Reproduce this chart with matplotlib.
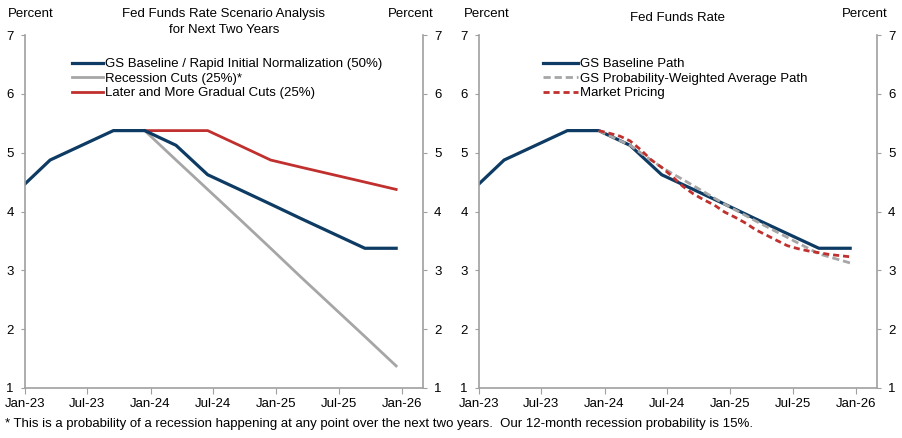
import matplotlib
matplotlib.use("Agg")
import matplotlib.pyplot as plt
import matplotlib.dates as mdates
import pandas as pd

plt.rcParams['font.family'] = ['Liberation Sans', 'DejaVu Sans']
plt.rcParams['font.size'] = 9.5

# quarterly path dates (FOMC months)
quarters = pd.to_datetime(['2022-12-15', '2023-03-15', '2023-06-15', '2023-09-15', '2023-12-15',
                           '2024-03-15', '2024-06-15', '2024-09-15', '2024-12-15',
                           '2025-03-15', '2025-06-15', '2025-09-15', '2025-12-15'])
baseline = [4.375, 4.875, 5.125, 5.375, 5.375, 5.125, 4.625, 4.375, 4.125, 3.875, 3.625, 3.375, 3.375]

scen_dates = quarters[4:]
recession = [5.375, 4.875, 4.375, 3.875, 3.375, 2.875, 2.375, 1.875, 1.375]
gradual = [5.375, 5.375, 5.375, 5.125, 4.875, 4.75, 4.625, 4.5, 4.375]
weighted = [5.375, 5.125, 4.75, 4.44, 4.125, 3.84, 3.56, 3.28, 3.125]

# monthly market pricing, Dec-23 to Dec-25
market_dates = pd.date_range('2023-12-01', '2025-12-01', freq='MS') + pd.Timedelta(days=14)
market = [5.375, 5.33, 5.28, 5.20, 5.05, 4.88, 4.75, 4.60, 4.43, 4.30, 4.20, 4.11, 3.99,
          3.90, 3.80, 3.69, 3.60, 3.51, 3.42, 3.37, 3.33, 3.30, 3.27, 3.25, 3.23]

navy = '#0d3b63'
grey = '#a6a6a6'
red = '#c0302e'
spine_col = '#a0a0a0'

fig = plt.figure(figsize=(9.02, 4.38), dpi=100)
ax1 = fig.add_axes([25/902, 50/438, 398/902, 353/438])
ax2 = fig.add_axes([479/902, 50/438, 398/902, 353/438])


def style(ax):
    ax.set_xlim(pd.Timestamp('2023-01-01'), pd.Timestamp('2026-03-03'))
    ax.set_ylim(1, 7)
    ax.set_yticks(range(1, 8))
    ax.xaxis.set_major_locator(mdates.MonthLocator(bymonth=[1, 7]))
    ax.xaxis.set_major_formatter(mdates.DateFormatter('%b-%y'))
    ax.spines['top'].set_visible(False)
    for s in ['left', 'right', 'bottom']:
        ax.spines[s].set_color(spine_col)
        ax.spines[s].set_linewidth(1.2)
    ax.tick_params(axis='y', left=True, right=True, labelleft=True, labelright=True,
                   length=3, color=spine_col, pad=5)
    ax.tick_params(axis='x', length=4, color=spine_col, pad=3)


style(ax1)
ax1.plot(quarters, baseline, color=navy, lw=2.3, label='GS Baseline / Rapid Initial Normalization (50%)')
ax1.plot(scen_dates, recession, color=grey, lw=2.0, label='Recession Cuts (25%)*', zorder=1)
ax1.plot(scen_dates, gradual, color=red, lw=2.0, label='Later and More Gradual Cuts (25%)', zorder=1)
ax1.legend(loc='upper left', bbox_to_anchor=(0.118, 0.935), frameon=False, borderpad=0,
           borderaxespad=0, handlelength=2.35, handletextpad=0.15, labelspacing=0.18)

style(ax2)
ax2.plot(quarters, baseline, color=navy, lw=2.3, label='GS Baseline Path')
ax2.plot(scen_dates, weighted, color=grey, lw=2.0, dashes=(2.6, 1.4),
         label='GS Probability-Weighted Average Path')
ax2.plot(market_dates, market, color=red, lw=2.0, dashes=(2.2, 1.4), label='Market Pricing')
ax2.legend(loc='upper left', bbox_to_anchor=(0.161, 0.935), frameon=False, borderpad=0,
           borderaxespad=0, handlelength=2.65, handletextpad=0.15, labelspacing=0.18)

# titles and unit labels
fig.text(224/902, 1 - 22/438, 'Fed Funds Rate Scenario Analysis\nfor Next Two Years',
         ha='center', va='center', linespacing=1.35)
fig.text(677/902, 1 - 18/438, 'Fed Funds Rate', ha='center', va='center')
for x in [31, 411, 487, 865]:
    fig.text(x/902, 1 - 14/438, 'Percent', ha='center', va='center')

fig.text(5/902, 1 - 424/438,
         '* This is a probability of a recession happening at any point over the next two years.  '
         'Our 12-month recession probability is 15%.', ha='left', va='center')

fig.savefig('out.png', dpi=100)
